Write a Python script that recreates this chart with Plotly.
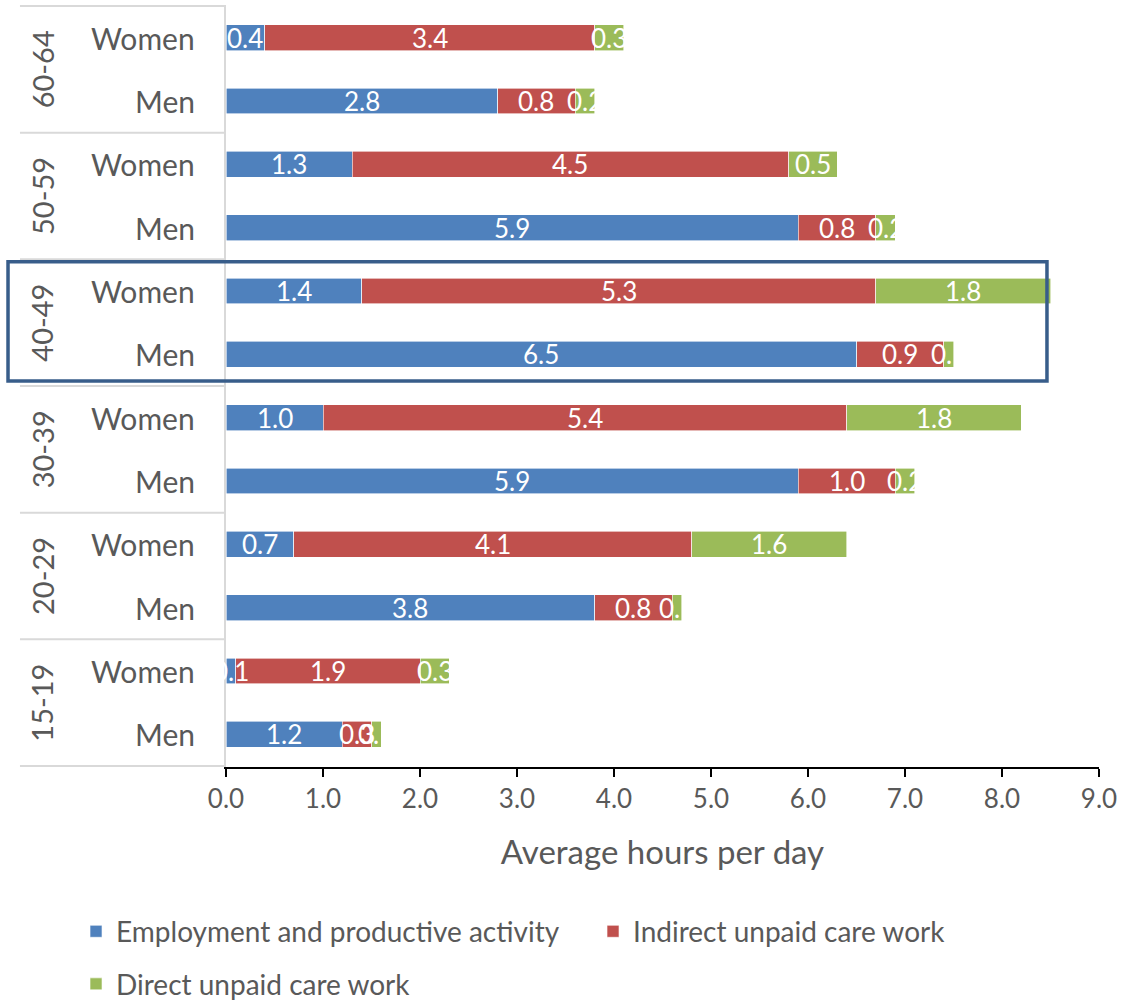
import plotly.graph_objects as go

# Age groups (top to bottom) and sexes within each group
age_groups = ["60-64", "50-59", "40-49", "30-39", "20-29", "15-19"]
sexes = ["Women", "Men"]

# Average hours per day, listed in the same row order (Women, Men per age group)
employment = [0.4, 2.8, 1.3, 5.9, 1.4, 6.5, 1.0, 5.9, 0.7, 3.8, 0.1, 1.2]
indirect_care = [3.4, 0.8, 4.5, 0.8, 5.3, 0.9, 5.4, 1.0, 4.1, 0.8, 1.9, 0.3]
direct_care = [0.3, 0.2, 0.5, 0.2, 1.8, 0.1, 1.8, 0.2, 1.6, 0.1, 0.3, 0.1]

series_names = [
    "Employment and productive activity",
    "Indirect unpaid care work",
    "Direct unpaid care work",
]
colors = ["#4F81BD", "#C0504D", "#9BBB59"]

x_ticks = [0, 1, 2, 3, 4, 5, 6, 7, 8, 9]

FONT = "Lato, 'Open Sans', sans-serif"
GREY = "#595959"

rows = [f"{g} {s}" for g in age_groups for s in sexes]
series = [employment, indirect_care, direct_care]
legend_ids = ["legend", "legend", "legend2"]

fig = go.Figure()
for name, vals, col, lg in zip(series_names, series, colors, legend_ids):
    fig.add_trace(go.Bar(
        y=rows, x=vals, name=name, orientation="h", legend=lg,
        marker=dict(color=col, line=dict(color="white", width=0.6)),
        hoverinfo="x+name",
    ))

annotations = []
shapes = []

# Value labels centred on each stacked segment
for r_i, r in enumerate(rows):
    start = 0.0
    for vals in series:
        v = vals[r_i]
        annotations.append(dict(
            x=start + v / 2, xref="x", y=r, yref="y", text=f"{v:.1f}",
            showarrow=False, xanchor="center", yanchor="middle",
            font=dict(family=FONT, size=26, color="white"),
        ))
        start += v

# Sex labels next to each bar
for r in rows:
    annotations.append(dict(
        x=-0.0332, xref="paper", y=r, yref="y", text=r.split(" ")[1],
        showarrow=False, xanchor="right", yanchor="middle",
        font=dict(family=FONT, size=30, color=GREY),
    ))
# Rotated age-group labels and separators
for i, g in enumerate(age_groups):
    annotations.append(dict(
        x=-0.2108, xref="paper", y=2 * i + 0.5, yref="y", text=g,
        showarrow=False, textangle=-90, xanchor="center", yanchor="middle",
        font=dict(family=FONT, size=29, color=GREY),
    ))
for k in range(len(age_groups) + 1):
    yb = 2 * k - 0.5
    shapes.append(dict(
        type="line", xref="paper", yref="y", x0=-0.236, x1=0, y0=yb, y1=yb,
        line=dict(color="#D9D9D9", width=2), layer="below",
    ))

# Highlight box around the 40-49 group
shapes.append(dict(
    type="rect", xref="paper", yref="y",
    x0=-0.2497, x1=0.9404, y0=3.54, y1=5.42,
    line=dict(color="#385D8A", width=3.5), fillcolor="rgba(0,0,0,0)", layer="above",
))

legend_style = dict(
    orientation="h", xanchor="left", yanchor="middle",
    entrywidth=472, entrywidthmode="pixels", itemwidth=30,
    font=dict(family=FONT, size=28, color=GREY), traceorder="normal",
    bgcolor="rgba(0,0,0,0)",
)

fig.update_layout(
    width=1122, height=1003,
    margin=dict(l=226, r=23, t=5, b=236, autoexpand=False),
    barmode="stack", bargap=0.59,
    plot_bgcolor="white", paper_bgcolor="white",
    font=dict(family=FONT, color=GREY),
    annotations=annotations, shapes=shapes,
    legend=dict(x=-0.1718, y=-0.216, **legend_style),
    legend2=dict(x=-0.1718, y=-0.285, **legend_style),
    xaxis=dict(
        range=[0, 9], tickvals=x_ticks, ticktext=[f"{v:.1f}" for v in x_ticks],
        showgrid=False, zeroline=False,
        showline=True, linecolor="black", linewidth=1.5,
        ticks="outside", ticklen=8, tickwidth=1.5, tickcolor="black",
        tickfont=dict(family=FONT, size=26, color=GREY),
        title=dict(text="Average hours per day", standoff=28,
                   font=dict(family=FONT, size=33, color=GREY)),
    ),
    yaxis=dict(
        categoryorder="array", categoryarray=rows, autorange="reversed",
        showticklabels=False, ticks="", showgrid=False, zeroline=False,
        showline=True, linecolor="#D9D9D9", linewidth=2,
    ),
)

fig.write_html("out.html")
